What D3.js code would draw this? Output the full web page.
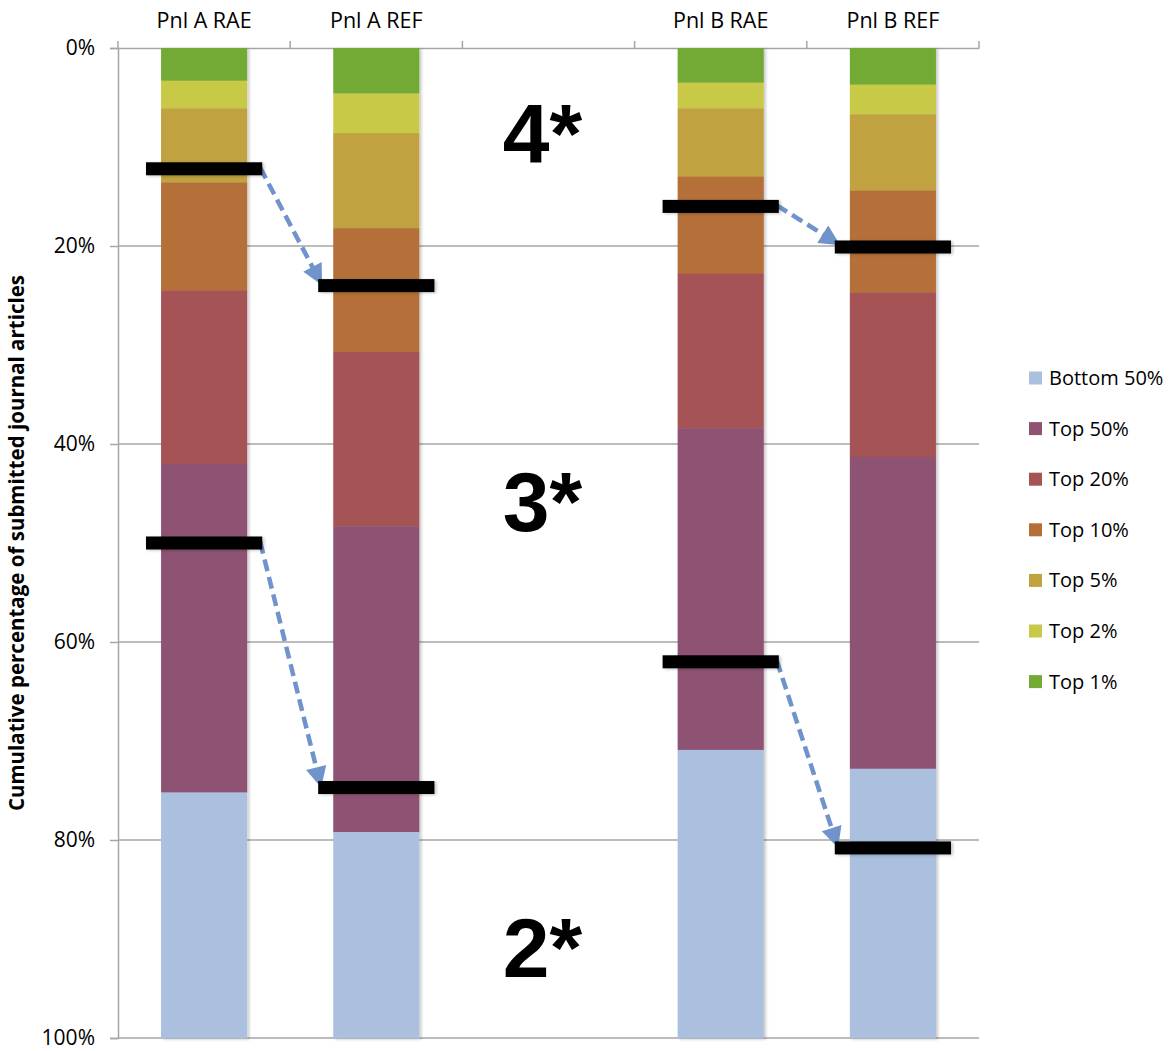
<!DOCTYPE html>
<html>
<head>
<meta charset="utf-8">
<script src="https://cdn.jsdelivr.net/npm/d3@7"></script>
<style>
  body { margin: 0; background: #fff; }
  svg { font-family: "Open Sans", sans-serif; }
</style>
</head>
<body>
<svg id="chart" width="1173" height="1051"></svg>
<script>
// categories (the blank one is the gap between the two panels)
const categories = ['Pnl A RAE', 'Pnl A REF', ' ', 'Pnl B RAE', 'Pnl B REF'];
const seriesNames = ['Top 1%', 'Top 2%', 'Top 5%', 'Top 10%', 'Top 20%', 'Top 50%', 'Bottom 50%'];
const seriesColors = ['#73aa36', '#c8c947', '#c0a23f', '#b46f38', '#a65356', '#8e5373', '#abc0de'];

// share of articles in each band, per category (stacked from the top)
const top1   = [3.3, 4.6, 0, 3.5, 3.7];
const top2   = [2.8, 4.0, 0, 2.6, 3.0];
const top5   = [7.5, 9.6, 0, 6.9, 7.7];
const top10  = [10.9, 12.5, 0, 9.8, 10.3];
const top20  = [17.5, 17.6, 0, 15.6, 16.6];
const top50  = [33.2, 30.9, 0, 32.5, 31.5];
const bottom = [24.8, 20.8, 0, 29.1, 27.2];

// cumulative thresholds for 4* and 3*+4*
const fourStar  = [12.2, 24.0, null, 16.0, 20.1];
const threeStar = [50.0, 74.7, null, 62.0, 80.8];

const yTicks = [0, 20, 40, 60, 80, 100];
const starLabels = ['4*', '3*', '2*'];

const svg = d3.select('#chart');
const margin = {top: 48, right: 194, bottom: 13, left: 118};
const width = 1173 - margin.left - margin.right;
const height = 1051 - margin.top - margin.bottom;

const x = d3.scaleBand()
    .domain(categories)
    .range([margin.left, margin.left + width])
    .paddingInner(0.5)
    .paddingOuter(0.25);

const y = d3.scaleLinear()
    .domain([0, 100])
    .range([margin.top, margin.top + height]);

const color = d3.scaleOrdinal().domain(seriesNames).range(seriesColors);

// soft shadow like the spreadsheet bars
const defs = svg.append('defs');
defs.append('filter')
    .attr('id', 'shadow')
    .attr('x', '-20%').attr('y', '-5%').attr('width', '140%').attr('height', '110%')
    .append('feDropShadow')
    .attr('dx', 2).attr('dy', 1).attr('stdDeviation', 1.5)
    .attr('flood-color', '#000').attr('flood-opacity', 0.22);

defs.append('marker')
    .attr('id', 'arrow')
    .attr('viewBox', '0 0 10 10')
    .attr('refX', 8).attr('refY', 5)
    .attr('markerWidth', 5).attr('markerHeight', 4.6)
    .attr('markerUnits', 'strokeWidth')
    .attr('orient', 'auto')
    .append('path')
    .attr('d', 'M0,0 L10,5 L0,10 Z')
    .attr('fill', '#6f93ca');

// gridlines
svg.append('g')
    .selectAll('line')
    .data(yTicks.slice(1))
    .join('line')
    .attr('x1', margin.left)
    .attr('x2', margin.left + width)
    .attr('y1', d => y(d))
    .attr('y2', d => y(d))
    .attr('stroke', '#a6a6a6')
    .attr('stroke-width', 1.5);

// y axis
const yAxis = svg.append('g')
    .attr('transform', `translate(${margin.left},0)`)
    .call(d3.axisLeft(y).tickValues(yTicks).tickFormat(d => d + '%').tickSize(8).tickPadding(15));
yAxis.select('.domain').attr('stroke', '#a6a6a6').attr('stroke-width', 1.5);
yAxis.selectAll('.tick line').attr('stroke', '#a6a6a6').attr('stroke-width', 1.5);
yAxis.selectAll('text').attr('font-size', 21).attr('fill', '#000').attr('font-family', '"Open Sans", sans-serif');

// category axis on top
const xAxis = svg.append('g')
    .attr('transform', `translate(0,${margin.top})`)
    .call(d3.axisTop(x).tickSize(0).tickPadding(20));
xAxis.select('.domain').attr('stroke', '#a6a6a6').attr('stroke-width', 1.5);
xAxis.selectAll('text').attr('font-size', 21.5).attr('fill', '#000').attr('font-family', '"Open Sans", sans-serif');

const boundaries = d3.range(categories.length + 1).map(i => margin.left + i * x.step());
svg.append('g')
    .selectAll('line')
    .data(boundaries)
    .join('line')
    .attr('x1', d => d).attr('x2', d => d)
    .attr('y1', margin.top).attr('y2', margin.top - 7)
    .attr('stroke', '#a6a6a6')
    .attr('stroke-width', 1.5);

// stacked bars
const table = categories.map((c, i) => ({
    cat: c,
    'Top 1%': top1[i], 'Top 2%': top2[i], 'Top 5%': top5[i], 'Top 10%': top10[i],
    'Top 20%': top20[i], 'Top 50%': top50[i], 'Bottom 50%': bottom[i]
}));
const stacked = d3.stack().keys(seriesNames)(table);

const bars = svg.append('g').attr('filter', 'url(#shadow)');
bars.selectAll('g')
    .data(stacked)
    .join('g')
    .attr('fill', d => color(d.key))
    .selectAll('rect')
    .data(d => d.filter(s => s[1] > s[0]))
    .join('rect')
    .attr('x', d => x(d.data.cat))
    .attr('y', d => y(d[0]))
    .attr('width', x.bandwidth())
    .attr('height', d => y(d[1]) - y(d[0]) + 0.3);

// threshold markers and arrows
const markW = x.bandwidth() * 1.35;
const markH = 13;
const cx = c => x(c) + x.bandwidth() / 2;

function drawThreshold(values) {
    const pts = categories.map((c, i) => ({cat: c, v: values[i]})).filter(d => d.v != null);
    const pairs = [[pts[0], pts[1]], [pts[2], pts[3]]];

    svg.append('g')
        .selectAll('line')
        .data(pairs)
        .join('line')
        .attr('x1', d => cx(d[0].cat) + markW / 2 - 2)
        .attr('y1', d => y(d[0].v) - 1)
        .attr('x2', d => cx(d[1].cat) - markW / 2 + 2)
        .attr('y2', d => y(d[1].v) - 4)
        .attr('stroke', '#6f93ca')
        .attr('stroke-width', 4.5)
        .attr('stroke-dasharray', '12,6')
        .attr('marker-end', 'url(#arrow)');

    svg.append('g')
        .attr('filter', 'url(#shadow)')
        .selectAll('rect')
        .data(pts)
        .join('rect')
        .attr('x', d => cx(d.cat) - markW / 2)
        .attr('y', d => y(d.v) - markH / 2)
        .attr('width', markW)
        .attr('height', markH)
        .attr('fill', '#000');
}
drawThreshold(fourStar);
drawThreshold(threeStar);

// star band labels
const gapX = cx(' ') - 6;
svg.append('g')
    .selectAll('text')
    .data(starLabels)
    .join('text')
    .attr('x', gapX)
    .attr('y', (d, i) => [y(11.6), y(48.8), y(93.8)][i])
    .attr('text-anchor', 'middle')
    .attr('font-family', '"Liberation Sans", Arial, sans-serif')
    .attr('font-weight', 'bold')
    .attr('font-size', 84)
    .text(d => d);

// y axis title
svg.append('text')
    .attr('transform', `translate(24,${y(50)}) rotate(-90)`)
    .attr('text-anchor', 'middle')
    .attr('font-weight', 'bold')
    .attr('font-size', 20.5)
    .text('Cumulative percentage of submitted journal articles');

// legend, bottom band first
const legendItems = seriesNames.slice().reverse();
const legend = svg.append('g').attr('transform', 'translate(1029,378)');
const rows = legend.selectAll('g')
    .data(legendItems)
    .join('g')
    .attr('transform', (d, i) => `translate(0,${i * 50.6})`);
rows.append('rect')
    .attr('x', 0).attr('y', -6.5)
    .attr('width', 13).attr('height', 13)
    .attr('fill', d => color(d));
rows.append('text')
    .attr('x', 20)
    .attr('dy', '0.35em')
    .attr('font-size', 20)
    .text(d => d);
</script>
</body>
</html>
